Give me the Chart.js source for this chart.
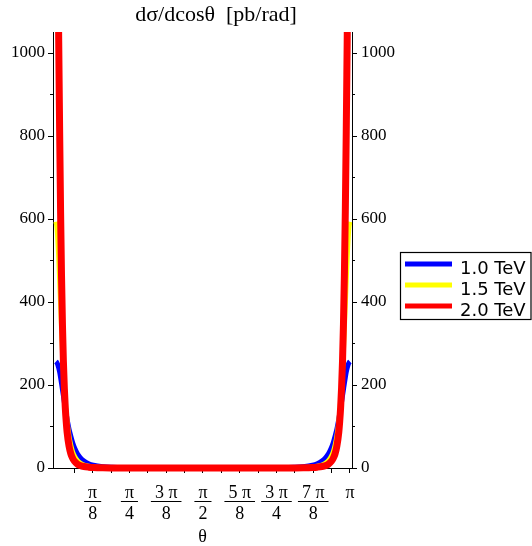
<!DOCTYPE html>
<html><head><meta charset="utf-8">
<script src="https://cdn.jsdelivr.net/npm/chart.js@4"></script>
<style>html,body{margin:0;padding:0;background:#fff;overflow:hidden}#wrap{width:532px;height:546px;position:relative}canvas{display:block}</style>
</head><body><div id="wrap"><canvas id="c" width="532" height="546"></canvas></div>
<script>
// scattering angle θ (rad)
const theta = [0, 0.01, 0.02, 0.03, 0.04, 0.05, 0.06, 0.07, 0.08, 0.09, 0.10, 0.11, 0.12, 0.14, 0.16, 0.18, 0.20, 0.23, 0.26, 0.30, 0.35, 0.40, 0.50, 0.60, 0.75, 0.90, 1.10, 1.30, 1.5708,
  1.84159, 2.04159, 2.24159, 2.39159, 2.54159, 2.64159, 2.74159, 2.79159, 2.84159, 2.88159, 2.91159, 2.94159, 2.96159, 2.98159, 3.00159, 3.02159, 3.03159, 3.04159, 3.05159, 3.06159, 3.07159, 3.08159, 3.09159, 3.10159, 3.11159, 3.12159, 3.13159, 3.14159];
// dσ/dcosθ [pb/rad]
const tev10 = [256, 254, 249, 241, 231, 218, 204, 189, 174, 159, 144, 130, 117, 94, 76, 60, 48, 34, 25, 16.6, 10.3, 6.7, 3.1, 1.6, 0.72, 0.38, 0.18, 0.10, 0.06,
  0.10, 0.18, 0.38, 0.72, 1.6, 3.1, 6.7, 10.3, 16.6, 25, 34, 48, 60, 76, 94, 117, 130, 144, 159, 174, 189, 204, 218, 231, 241, 249, 254, 256];
const tev15 = [593, 582, 552, 507, 452, 394, 337, 284, 237, 197, 163, 134, 111, 77, 54, 38, 28, 18, 12, 7.2, 4.1, 2.5, 1.1, 0.55, 0.24, 0.12, 0.06, 0.03, 0.02,
  0.03, 0.06, 0.12, 0.24, 0.55, 1.1, 2.5, 4.1, 7.2, 12, 18, 28, 38, 54, 77, 111, 134, 163, 197, 237, 284, 337, 394, 452, 507, 552, 582, 593];
const tev20 = [1471, 1409, 1245, 1029, 810, 617, 463, 345, 257, 193, 146, 112, 86, 53, 34, 23, 16, 9.5, 6.1, 3.5, 2.0, 1.2, 0.5, 0.25, 0.11, 0.05, 0.03, 0.01, 0.01,
  0.01, 0.03, 0.05, 0.11, 0.25, 0.5, 1.2, 2.0, 3.5, 6.1, 9.5, 16, 23, 34, 53, 86, 112, 146, 193, 257, 345, 463, 617, 810, 1029, 1245, 1409, 1471];

const seriesLabels = ['1.0 TeV', '1.5 TeV', '2.0 TeV'];
const seriesColors = ['#0000ff', '#ffff00', '#ff0000'];
const seriesWidths = [5, 5, 7];
const xTickNumerators = ['π', 'π', '3 π', 'π', '5 π', '3 π', '7 π', 'π'];
const xTickDenominators = ['8', '4', '8', '2', '8', '4', '8', ''];
const yTicks = [0, 100, 200, 300, 400, 500, 600, 700, 800, 900, 1000];
const yLabelStep = 200;
const titleText = 'dσ/dcosθ  [pb/rad]';
const xTitleText = 'θ';

const SERIF = '"Liberation Serif", "DejaVu Serif", serif';
const seriesValues = [tev10, tev15, tev20];

const datasets = seriesValues.map((vals, i) => ({
  label: seriesLabels[i],
  data: theta.map((t, j) => ({x: t, y: vals[j]})),
  borderColor: seriesColors[i],
  backgroundColor: seriesColors[i],
  borderWidth: seriesWidths[i],
  pointRadius: 0,
  cubicInterpolationMode: 'monotone',
  fill: false,
  clip: {left: 0, right: 0, top: 0, bottom: 5},
  order: seriesValues.length - i
}));

const extras = {
  id: 'extras',
  afterDraw(chart) {
    const ctx = chart.ctx;
    const ca = chart.chartArea;
    const xs = chart.scales.x, yl = chart.scales.y;
    ctx.save();
    ctx.strokeStyle = '#000'; ctx.lineWidth = 1;
    yTicks.forEach(v => {
      const py = Math.round(yl.getPixelForValue(v)) + 0.5;
      const len = (v % yLabelStep === 0) ? 5 : 3;
      ctx.beginPath();
      ctx.moveTo(ca.left - len, py); ctx.lineTo(ca.left, py);
      ctx.moveTo(ca.right, py); ctx.lineTo(ca.right + len, py);
      ctx.stroke();
    });
    // fraction bars
    ctx.font = '18px ' + SERIF;
    xTickNumerators.forEach((num, i) => {
      const den = xTickDenominators[i];
      if (!den) return;
      const px = xs.getPixelForValue(Math.PI * (i + 1) / 8);
      const w = Math.max(ctx.measureText(num).width, ctx.measureText(den).width) + 8;
      ctx.beginPath();
      ctx.moveTo(px - w / 2, 501.5); ctx.lineTo(px + w / 2, 501.5);
      ctx.stroke();
    });
    // titles
    ctx.fillStyle = '#000';
    ctx.textAlign = 'center'; ctx.textBaseline = 'middle';
    ctx.font = '22px ' + SERIF;
    ctx.fillText(titleText, 216, 15);
    ctx.font = '18px ' + SERIF;
    ctx.fillText(xTitleText, (ca.left + ca.right) / 2, 537);
    // legend
    ctx.lineWidth = 1.2;
    ctx.strokeRect(400.5, 252.5, 130.5, 67);
    const rowsY = [264, 285, 306];
    ctx.font = '18px "DejaVu Sans", sans-serif';
    ctx.textAlign = 'left'; ctx.textBaseline = 'alphabetic';
    chart.data.datasets.forEach((ds, i) => {
      ctx.strokeStyle = ds.borderColor; ctx.lineWidth = 5; ctx.lineCap = 'butt';
      ctx.beginPath(); ctx.moveTo(405, rowsY[i]); ctx.lineTo(452, rowsY[i]); ctx.stroke();
      ctx.fillStyle = '#000';
      ctx.fillText(ds.label, 460, rowsY[i] + 9.5);
    });
    ctx.restore();
  }
};

const yScaleCommon = {
  type: 'linear', min: 0, max: 1050,
  afterBuildTicks: s => { s.ticks = yTicks.map(v => ({value: v})); },
  grid: {display: true, drawOnChartArea: false, drawTicks: false, color: '#000'},
  border: {display: true, color: '#000', width: 1},
  ticks: {
    color: '#000', font: {family: SERIF, size: 17},
    callback: v => (v % yLabelStep === 0 ? String(v) : '')
  }
};

new Chart(document.getElementById('c'), {
  type: 'line',
  data: {datasets},
  plugins: [extras],
  options: {
    responsive: false, animation: false, devicePixelRatio: 1,
    layout: {padding: {top: 32, left: 0, right: 0, bottom: 0}},
    plugins: {legend: {display: false}, title: {display: false}, tooltip: {enabled: false}},
    scales: {
      x: {
        type: 'linear', position: 'bottom', min: -0.031, max: 3.163,
        afterBuildTicks: s => { s.ticks = Array.from({length: 16}, (_, k) => ({value: Math.PI * (k + 1) / 16})); },
        afterFit: s => { s.height = 78; },
        grid: {display: true, drawOnChartArea: false, drawTicks: true, tickLength: 5, color: '#000'},
        border: {display: true, color: '#000', width: 1},
        ticks: {
          color: '#000', font: {family: SERIF, size: 18, lineHeight: 1.15}, padding: 10, maxRotation: 0, autoSkip: false,
          callback: (v, idx) => {
            const k = idx + 1;
            if (k % 2) return '';
            const j = k / 2 - 1;
            return xTickDenominators[j] ? [xTickNumerators[j], xTickDenominators[j]] : xTickNumerators[j];
          }
        }
      },
      y: Object.assign({}, yScaleCommon, {position: 'left', afterFit: s => { s.width = 53; },
        ticks: Object.assign({}, yScaleCommon.ticks, {padding: 8})}),
      y2: Object.assign({}, yScaleCommon, {position: 'right', afterFit: s => { s.width = 180; },
        ticks: Object.assign({}, yScaleCommon.ticks, {padding: 9})})
    }
  }
});
</script>
</body></html>
